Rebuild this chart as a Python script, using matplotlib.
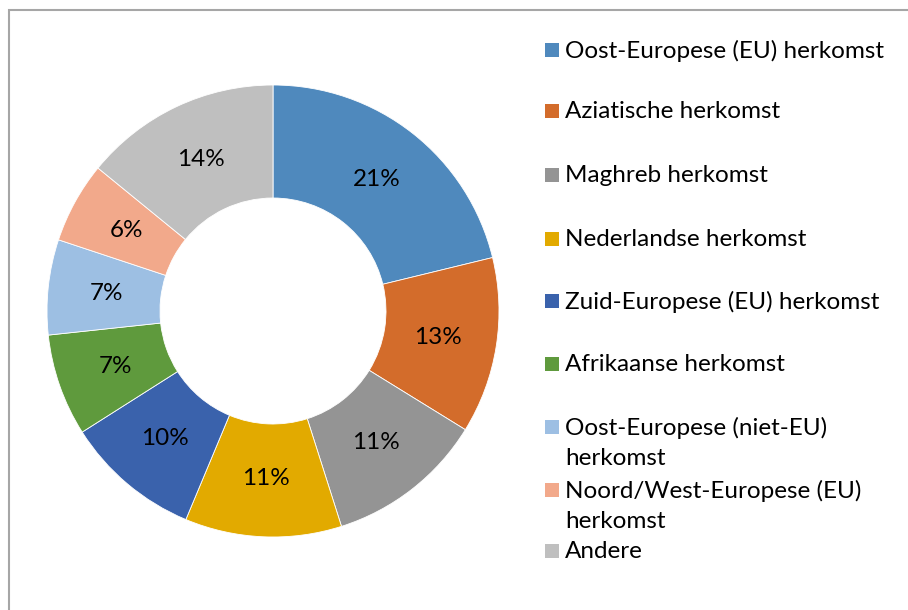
import numpy as np
import matplotlib
matplotlib.use("Agg")
from matplotlib import pyplot as plt
from matplotlib.patches import Rectangle

# Herkomst-groepen en hun aandeel (%).
categories = [
    "Oost-Europese (EU) herkomst",
    "Aziatische herkomst",
    "Maghreb herkomst",
    "Nederlandse herkomst",
    "Zuid-Europese (EU) herkomst",
    "Afrikaanse herkomst",
    "Oost-Europese (niet-EU)\nherkomst",
    "Noord/West-Europese (EU)\nherkomst",
    "Andere",
]
shares = [21.2, 12.6, 11.3, 11.2, 9.7, 7.3, 6.8, 5.8, 14.1]
colors = ["#4F89BD", "#D36C2B", "#949494", "#E2AA00", "#3A62AC",
          "#5F9A3D", "#9DBFE3", "#F2A98B", "#BFBFBF"]

W, H = 908, 610
plt.rcParams['font.family'] = ['Lato', 'DejaVu Sans']
fig = plt.figure(figsize=(W / 100, H / 100), dpi=100)

# Rand van het grafiekgebied (alleen boven en links zichtbaar).
fig.patches.append(Rectangle((8.5 / W, -0.1), 1.2, (H - 9.5) / H + 0.1,
                             transform=fig.transFigure, fill=False,
                             edgecolor="#A6A6A6", linewidth=1.5))

# Donut.
cx, cy, r = 273, 311, 226
ax = fig.add_axes([(cx - r) / W, (H - cy - r) / H, 2 * r / W, 2 * r / H])
wedges, texts = ax.pie(shares, colors=colors, startangle=90, counterclock=False,
                       radius=1, wedgeprops=dict(width=0.5, edgecolor="white", linewidth=0.6))
for w, s in zip(wedges, shares):
    ang = np.deg2rad((w.theta1 + w.theta2) / 2)
    ax.text(0.74 * np.cos(ang), 0.74 * np.sin(ang), f"{round(s)}%",
            ha="center", va="center", fontsize=17.5, color="black")
ax.set_xlim(-1, 1)
ax.set_ylim(-1, 1)
ax.set_aspect("equal")
ax.axis("off")

# Legenda.
legend_y = [50, 111, 175, 239, 301, 364, 427, 490, 551]
for label, c, y in zip(categories, colors, legend_y):
    fig.patches.append(Rectangle((545 / W, (H - y - 7) / H), 14 / W, 14 / H,
                                 transform=fig.transFigure, facecolor=c, edgecolor="none"))
    fig.text(565 / W, (H - y + 10) / H, label, ha="left", va="top",
             fontsize=17.5, color="black", linespacing=1.55)

fig.savefig("out.png", dpi=100, facecolor="white")
